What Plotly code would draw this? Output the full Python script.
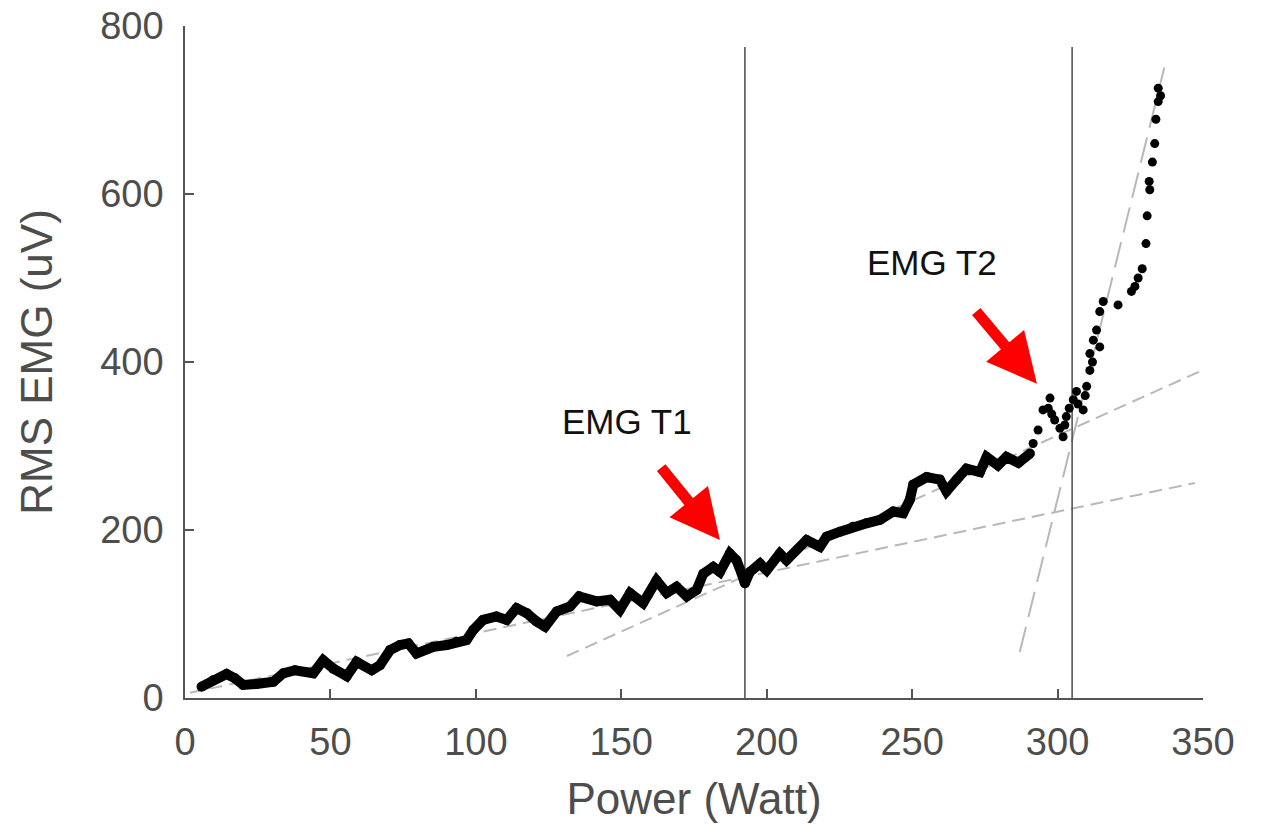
import plotly.graph_objects as go

# ---- data ----
power_dense = [5.7, 9.7, 14.3, 17.2, 20, 24.6, 30.4, 33.8, 37.8, 44.1, 47.5, 51, 55.6, 59, 64.2, 67,
               70.5, 73.9, 76.8, 79.6, 85.4, 90, 93.4, 96.8, 99.1, 102.5, 107.1, 110.6, 114, 117.5,
               120.9, 123.8, 127.8, 132.4, 135.5, 141.5, 146.1, 149.5, 153, 157.5, 162.1, 165.6, 169,
               172.5, 175.9, 178.2, 181.6, 183.9, 187.3, 189.6, 191.4, 192.5, 194.2, 197.7, 200,
               204.5, 206.8, 213.7, 218.3, 220.6, 225.2, 229.7, 234.3, 238.9, 243.5, 246.9, 249.2,
               250.4, 255, 259.5, 261.8, 265.3, 268.7, 273.3, 275.6, 279.5, 282.4, 286.5, 290.5]
emg_dense = [13.5, 21, 28.6, 23.4, 15.5, 16.7, 19.4, 29.4, 33, 29.4, 45, 35, 26, 43, 33, 39,
             57, 63, 65, 53, 61, 63, 67, 69, 81, 93, 97, 93, 107, 101,
             91, 85, 103, 109, 121, 115, 117, 105, 125, 113, 140, 125, 132.5,
             121, 128.6, 148, 156, 150, 172, 164, 148, 136.5, 150, 160, 152,
             172, 164, 188, 180, 192, 198, 204, 208, 212, 222, 220, 236,
             254, 263, 260, 246, 260, 273, 269, 287, 277, 287, 280, 291]

power_sparse = [291.6, 293.3, 295, 296.8, 297.4, 298, 299, 300.8, 301.9, 302.5, 303, 304, 305.4,
                306.5, 307, 308.8, 309.5, 310, 311.1, 311.1, 312, 312.3, 313.4, 314.5, 314.5,
                315.7, 320.8, 325.4, 326.6, 327.7, 329.1, 330.4, 330.8, 331.5, 331.7, 332.6,
                333.4, 333.8, 334.6, 335.4, 334.6]
emg_sparse = [303, 319, 343, 345, 357, 338, 331, 321, 311, 325, 335, 345, 355,
              365, 350, 343, 360, 371, 390, 410, 400, 426, 438, 418, 460,
              472, 468, 484, 490, 500, 511, 541, 574, 615, 605, 638,
              660, 689, 710, 717, 726]

fit_x = [[1.7, 347.2], [131.3, 350.0], [287.0, 337.5]]
fit_y = [[6.3, 256.0], [50.0, 390.5], [54.8, 761.5]]
fit_dash = ["13px,7px", "13px,7px", "26px,10px"]

thresholds = [192.5, 305.0]
threshold_top = 775

labels = ["EMG T1", "EMG T2"]
label_x = [151.8, 256.9]
label_y = [329, 519]
arrow_tail_x = [163.3, 271.6]
arrow_tail_y = [276, 462]
arrow_tip_x = [183.9, 292.9]
arrow_tip_y = [188, 374]

x_ticks = [0, 50, 100, 150, 200, 250, 300, 350]
y_ticks = [0, 200, 400, 600, 800]

fig = go.Figure()

for i in range(3):
    fig.add_trace(go.Scatter(x=fit_x[i], y=fit_y[i], mode="lines",
                             line=dict(color="#b8b8b8", width=2, dash=fit_dash[i]),
                             hoverinfo="skip", showlegend=False))

for t in thresholds:
    fig.add_trace(go.Scatter(x=[t, t], y=[0, threshold_top], mode="lines",
                             line=dict(color="#4a4a4a", width=1.5),
                             hoverinfo="skip", showlegend=False))

fig.add_trace(go.Scatter(x=power_dense, y=emg_dense, mode="lines+markers",
                         line=dict(color="black", width=10),
                         marker=dict(color="black", size=10),
                         showlegend=False))
fig.add_trace(go.Scatter(x=power_sparse, y=emg_sparse, mode="markers",
                         marker=dict(color="black", size=9),
                         showlegend=False))

for i in range(2):
    fig.add_annotation(x=arrow_tip_x[i], y=arrow_tip_y[i], ax=arrow_tail_x[i], ay=arrow_tail_y[i],
                       xref="x", yref="y", axref="x", ayref="y", text="",
                       showarrow=True, arrowhead=2, arrowsize=0.9, arrowwidth=11,
                       arrowcolor="#ff0000", standoff=0)
    fig.add_annotation(x=label_x[i], y=label_y[i], xref="x", yref="y", text=labels[i],
                       showarrow=False, font=dict(family="Liberation Sans, Arial", size=35, color="#111111"))

axis_font = dict(family="Liberation Sans, Arial", size=38, color="#4d4d4d")
title_font = dict(family="Liberation Sans, Arial", size=44, color="#4d4d4d")

fig.update_xaxes(range=[0, 350], tickvals=x_ticks, ticks="inside", ticklen=9, tickwidth=1.5,
                 tickcolor="#555555", showline=True, linecolor="#555555", linewidth=1.5,
                 showgrid=False, zeroline=False, tickfont=axis_font, ticklabelstandoff=10,
                 automargin=False,
                 title=dict(text="Power (Watt)", font=title_font, standoff=21))
fig.update_yaxes(range=[0, 800], tickvals=y_ticks, ticks="inside", ticklen=9, tickwidth=1.5,
                 tickcolor="#555555", showline=True, linecolor="#555555", linewidth=1.5,
                 showgrid=False, zeroline=False, tickfont=axis_font, ticklabelstandoff=12,
                 automargin=False,
                 title=dict(text="RMS EMG (uV)", font=title_font, standoff=34))

fig.update_layout(width=1261, height=828, margin=dict(l=185, r=58, t=26, b=130),
                  plot_bgcolor="white", paper_bgcolor="white")

fig.write_html("out.html")
